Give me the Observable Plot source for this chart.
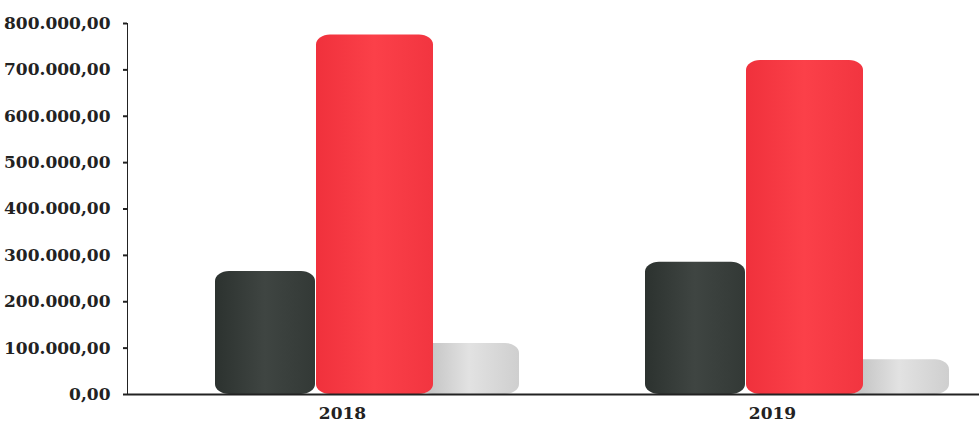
<!DOCTYPE html>
<html>
<head>
<meta charset="utf-8">
<script src="https://cdn.jsdelivr.net/npm/d3@7"></script>
<script src="https://cdn.jsdelivr.net/npm/@observablehq/plot@0.6"></script>
<style>
  html, body { margin: 0; padding: 0; background: #fff; }
  #chart svg { display: block; }
</style>
</head>
<body>
<div id="chart"></div>
<script>
const years = ["2018", "2019"];
const seriesNames = ["Serie 1", "Serie 2", "Serie 3"];
const serie1Values = [265000, 285000];
const serie2Values = [775000, 720000];
const serie3Values = [110000, 75000];
const yTicks = [0, 100000, 200000, 300000, 400000, 500000, 600000, 700000, 800000];

const allValues = [serie1Values, serie2Values, serie3Values];
const data = [];
years.forEach((yr, i) => {
  seriesNames.forEach((s, j) => data.push({year: yr, series: s, value: allValues[j][i]}));
});

const locale = d3.formatLocale({decimal: ",", thousands: ".", grouping: [3], currency: ["", ""]});
const fmt = locale.format(",.2f");

const chart = Plot.plot({
  width: 979,
  height: 426,
  marginLeft: 127,
  marginRight: -8,
  marginTop: 23,
  marginBottom: 32,
  style: {fontFamily: "'DejaVu Serif', serif", fontSize: "17px", fontWeight: "bold", color: "#222", overflow: "visible"},
  fx: {domain: years, padding: 0, label: null, tickSize: 0, tickPadding: 12},
  x: {domain: seriesNames, paddingInner: 0.02, paddingOuter: 0.6, align: 0.7, axis: null},
  y: {domain: [0, 800000], ticks: yTicks, tickFormat: fmt, label: null, tickSize: 4, tickPadding: 13, line: true},
  color: {domain: seriesNames, range: ["url(#gDark)", "url(#gRed)", "url(#gGray)"]},
  marks: [
    Plot.barY(data.filter(d => d.series !== "Serie 2"), {fx: "year", x: "series", y: "value", fill: "series", rx: 14, ry: 10}),
    Plot.barY(data.filter(d => d.series === "Serie 2"), {fx: "year", x: "series", y: "value", fill: "series", rx: 14, ry: 10, insetLeft: -1, insetRight: -16}),
    Plot.ruleY([0], {stroke: "#222", strokeWidth: 2})
  ]
});

const defs = d3.select(chart).insert("defs", ":first-child");
function grad(id, stops) {
  const g = defs.append("linearGradient").attr("id", id).attr("x1", "0").attr("x2", "1").attr("y1", "0").attr("y2", "0");
  stops.forEach(([o, c]) => g.append("stop").attr("offset", o).attr("stop-color", c));
}
grad("gDark", [[0, "#2c322f"], [0.5, "#3f4542"], [1, "#333936"]]);
grad("gRed", [[0, "#f0313c"], [0.5, "#fb4049"], [1, "#f23540"]]);
grad("gGray", [[0, "#bdbdbd"], [0.5, "#e2e2e2"], [1, "#cfcfcf"]]);

d3.select(chart).selectAll("[aria-label='y-axis tick'], [aria-label='y-axis line']").attr("stroke-width", 2);

document.getElementById("chart").append(chart);
</script>
</body>
</html>
